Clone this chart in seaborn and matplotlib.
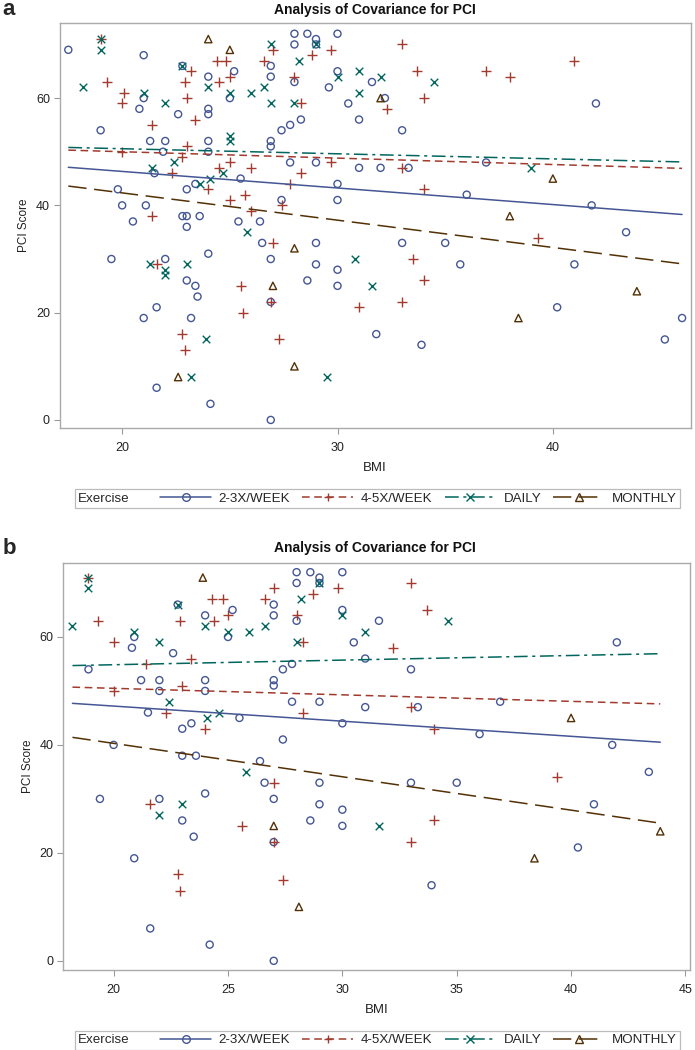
import numpy as np
import pandas as pd
import matplotlib.pyplot as plt
import seaborn as sns
from matplotlib.lines import Line2D
from matplotlib.offsetbox import HPacker

sns.set_style('white')
plt.rcParams['font.family'] = ['Liberation Sans', 'DejaVu Sans']

groups = ['2-3X/WEEK', '4-5X/WEEK', 'DAILY', 'MONTHLY']
colors = ['#445694', '#A23A2E', '#01665E', '#543005']
markers = ['o', '+', 'x', '^']
sizes = [26, 42, 30, 28]
linestyles = ['-', (0, (5, 3)), (0, (9, 3, 2, 3)), (0, (12, 5))]

# ---- panel a (all subjects) ----
a_23_bmi = [17.5, 21.0, 19.0, 24.0, 25.2, 26.9, 26.9, 21.0, 20.8, 22.6, 24.0, 24.0, 25.0,
            21.3, 22.0, 24.0, 26.9, 26.9, 21.9, 24.0, 21.5, 25.5, 23.4, 19.8, 23.0, 20.0,
            21.1, 20.5, 22.8, 23.0, 23.6, 25.4, 26.4, 23.0, 22.8,
            28.0, 28.6, 30.0, 29.0, 29.0, 28.0, 28.0, 30.0, 29.6, 31.6, 30.5, 32.2, 28.3,
            27.8, 27.4, 31.0, 33.0, 27.8, 29.0, 31.0, 32.0, 33.3, 36.9, 30.0, 36.0, 27.4, 30.0,
            42.0, 41.8, 43.4,
            19.5, 22.0, 24.0, 26.5, 26.9, 23.0, 23.4, 23.5, 21.6, 21.0, 23.2, 21.6, 24.1, 26.9, 26.9,
            29.0, 29.0, 30.0, 28.6, 30.0, 33.0, 35.0, 35.7, 31.8, 33.9,
            41.0, 40.2, 46.0, 45.2]
a_23_pci = [69, 68, 54, 64, 65, 66, 64, 60, 58, 57, 58, 57, 60,
            52, 52, 52, 52, 51, 50, 50, 46, 45, 44, 43, 43, 40,
            40, 37, 38, 38, 38, 37, 37, 36, 66,
            72, 72, 72, 71, 70, 70, 63, 65, 62, 63, 59, 60, 56,
            55, 54, 56, 54, 48, 48, 47, 47, 47, 48, 44, 42, 41, 41,
            59, 40, 35,
            30, 30, 31, 33, 30, 26, 25, 23, 21, 19, 19, 6, 3, 0, 22,
            33, 29, 28, 26, 25, 33, 33, 29, 16, 14,
            29, 21, 19, 15]
a_45_bmi = [19.0, 19.3, 20.1, 20.0, 23.2, 22.9, 23.0, 23.4, 21.4, 24.4, 24.8, 26.6, 24.5,
            25.0, 23.0, 20.0, 22.8, 24.5, 25.0, 26.0, 22.3, 24.0, 25.7, 25.0, 26.0, 21.4,
            27.0, 29.7, 28.8, 33.0, 28.0, 33.7, 28.3, 34.0, 32.3, 29.7, 28.3, 33.0, 27.8, 34.0, 27.4,
            36.9, 38.0, 41.0,
            27.0, 21.6, 25.5, 25.6, 22.8, 22.9, 26.9,
            33.5, 34.0, 33.0, 31.0, 27.3, 39.3]
a_45_pci = [71, 63, 61, 59, 65, 63, 60, 56, 55, 67, 67, 67, 63,
            64, 51, 50, 49, 47, 48, 47, 46, 43, 42, 41, 39, 38,
            69, 69, 68, 70, 64, 65, 59, 60, 58, 48, 46, 47, 44, 43, 40,
            65, 64, 67,
            33, 29, 25, 20, 16, 13, 22,
            30, 26, 22, 21, 15, 34]
a_daily_bmi = [19.0, 19.0, 18.2, 22.8, 21.0, 24.0, 25.0, 26.0, 26.6, 26.9, 26.9, 22.0, 25.0,
               25.0, 21.4, 22.4, 24.1, 24.7, 23.6,
               29.0, 28.2, 31.0, 30.0, 32.0, 34.5, 31.0, 28.0, 39.0,
               25.8, 21.3, 22.0, 22.0, 23.0, 23.9, 23.2, 30.8, 31.6, 29.5]
a_daily_pci = [71, 69, 62, 66, 61, 62, 61, 61, 62, 59, 70, 59, 53,
               52, 47, 48, 45, 46, 44,
               70, 67, 65, 64, 64, 63, 61, 59, 47,
               35, 29, 28, 27, 29, 15, 8, 30, 25, 8]
a_month_bmi = [24.0, 25.0, 32.0, 40.0, 38.0, 27.0, 22.6, 28.0, 28.0, 43.9, 38.4]
a_month_pci = [71, 69, 60, 45, 38, 25, 8, 32, 10, 24, 19]

# fitted lines
a_fit_x = [17.5, 46.0]
a_fit_start = [47.1, 50.3, 50.8, 43.6]
a_fit_end = [38.3, 46.9, 48.1, 29.1]

# ---- panel b (subset) ----
b_23_bmi = [28.0, 28.6, 30.0, 29.0, 28.0, 29.0, 22.8, 27.0, 25.2, 24.0, 27.0, 28.0, 30.0,
            20.9, 25.0, 20.8, 22.6, 30.5, 31.0, 18.9, 27.8, 27.4, 21.2, 22.0, 24.0, 27.0,
            27.0, 22.0, 24.0, 27.8, 29.0, 31.0, 21.5, 25.5, 23.4, 23.0, 30.0, 27.4, 20.0,
            31.6, 42.0, 33.0, 33.3, 36.9, 36.0, 41.8,
            23.0, 23.6, 26.4, 26.6, 29.0, 19.4, 22.0, 24.0, 27.0, 29.0, 30.0, 23.0, 28.6,
            30.0, 23.5, 27.0, 20.9, 21.6, 24.2, 27.0,
            33.0, 35.0, 43.4, 41.0, 40.3, 33.9]
b_23_pci = [72, 72, 72, 71, 70, 70, 66, 66, 65, 64, 64, 63, 65,
            60, 60, 58, 57, 59, 56, 54, 55, 54, 52, 52, 52, 52,
            51, 50, 50, 48, 48, 47, 46, 45, 44, 43, 44, 41, 40,
            63, 59, 54, 47, 48, 42, 40,
            38, 38, 37, 33, 33, 30, 30, 31, 30, 29, 28, 26, 26,
            25, 23, 22, 19, 6, 3, 0,
            33, 33, 35, 29, 21, 14]
b_45_bmi = [18.9, 27.0, 29.8, 28.7, 24.3, 24.8, 26.6, 19.3, 22.9, 24.4, 25.0, 28.0, 20.0,
            28.3, 23.4, 21.4, 23.0, 20.0, 22.3, 28.3, 24.0,
            33.0, 33.7, 32.2, 33.0, 34.0,
            27.0, 21.6, 25.6, 27.0, 22.8, 22.9, 27.4,
            39.4, 34.0, 33.0]
b_45_pci = [71, 69, 69, 68, 67, 67, 67, 63, 63, 63, 64, 64, 59,
            59, 56, 55, 51, 50, 46, 46, 43,
            70, 65, 58, 47, 43,
            33, 29, 25, 22, 16, 13, 15,
            34, 26, 22]
b_daily_bmi = [18.9, 18.9, 18.2, 20.9, 24.0, 25.0, 25.9, 26.6, 28.2, 28.0, 22.0, 22.8, 29.0,
               30.0, 31.0, 22.4, 24.1, 24.6, 34.6, 25.8, 23.0, 22.0, 31.6]
b_daily_pci = [71, 69, 62, 61, 62, 61, 61, 62, 67, 59, 59, 66, 70,
               64, 61, 48, 45, 46, 63, 35, 29, 27, 25]
b_month_bmi = [23.9, 40.0, 27.0, 28.1, 38.4, 43.9]
b_month_pci = [71, 45, 25, 10, 19, 24]

b_fit_x = [18.2, 43.9]
b_fit_start = [47.7, 50.7, 54.7, 41.4]
b_fit_end = [40.5, 47.6, 56.9, 25.5]


def make_df(bmis, pcis):
    frames = []
    for g, x, y in zip(groups, bmis, pcis):
        frames.append(pd.DataFrame({'BMI': x, 'PCI': y, 'Exercise': g}))
    return pd.concat(frames, ignore_index=True)


df_a = make_df([a_23_bmi, a_45_bmi, a_daily_bmi, a_month_bmi],
               [a_23_pci, a_45_pci, a_daily_pci, a_month_pci])
df_b = make_df([b_23_bmi, b_45_bmi, b_daily_bmi, b_month_bmi],
               [b_23_pci, b_45_pci, b_daily_pci, b_month_pci])

fig = plt.figure(figsize=(6.95, 10.5), dpi=100)
ax_a = fig.add_axes([0.0859, 0.5924, 0.9079, 0.3857])
ax_b = fig.add_axes([0.0911, 0.0762, 0.9017, 0.3876])


def draw_panel(ax, df, fit_x, fit_start, fit_end, xlim, ylim, xticks):
    for i, g in enumerate(groups):
        sub = df[df['Exercise'] == g]
        c = colors[i]
        sns.lineplot(x=fit_x, y=[fit_start[i], fit_end[i]], color=c,
                     linestyle=linestyles[i], lw=1.1, ax=ax)
        if markers[i] in ('o', '^'):
            sns.scatterplot(data=sub, x='BMI', y='PCI', marker=markers[i], s=sizes[i],
                            facecolor='none', edgecolor=c, linewidth=1.0, ax=ax)
        else:
            sns.scatterplot(data=sub, x='BMI', y='PCI', marker=markers[i], s=sizes[i],
                            color=c, linewidth=1.0, ax=ax)
    ax.set_xlim(*xlim)
    ax.set_ylim(*ylim)
    ax.set_xticks(xticks)
    ax.set_yticks([0, 20, 40, 60])
    ax.set_xlabel('BMI', fontsize=9.5, color='#222222', labelpad=6)
    ax.set_ylabel('PCI Score', fontsize=8.5, color='#222222', labelpad=4)
    ax.tick_params(bottom=True, left=True, direction='out', length=4, width=0.8,
                   color='#999999', labelsize=9, labelcolor='#222222')
    ax.tick_params(axis='x', pad=6)
    ax.tick_params(axis='y', pad=3)
    for sp in ax.spines.values():
        sp.set_color('#AAAAAA')
        sp.set_linewidth(1.0)


draw_panel(ax_a, df_a, a_fit_x, a_fit_start, a_fit_end, (17.1, 46.4), (-1.5, 74.0), [20, 30, 40])
draw_panel(ax_b, df_b, b_fit_x, b_fit_start, b_fit_end, (17.8, 45.2), (-1.7, 73.7),
           [20, 25, 30, 35, 40, 45])

# titles and panel letters
for y_t, letter in [(0.9905, 'a'), (0.478, 'b')]:
    fig.text(0.54, y_t, 'Analysis of Covariance for PCI', ha='center', va='center',
             fontsize=10, fontweight='bold', color='#111111')
    fig.text(0.004, y_t, letter, ha='left', va='center', fontsize=16, fontweight='bold')

# legends
handles = [Line2D([], [], color=c, linestyle=ls, marker=m, markersize=5.5,
                  markerfacecolor='none', markeredgewidth=1.0, lw=1.1)
           for c, ls, m in zip(colors, linestyles, markers)]

for y_l in [0.5248, 0.0095]:
    leg = fig.legend(handles=handles, labels=groups, ncol=4, title='Exercise',
                     loc='center', bbox_to_anchor=(0.543, y_l), fontsize=9.6, title_fontsize=9.6,
                     frameon=True, fancybox=False, edgecolor='#AAAAAA', handlelength=3.8,
                     handletextpad=0.6, columnspacing=0.9, borderpad=0.25, numpoints=1)
    leg.get_frame().set_linewidth(0.9)
    box = leg._legend_box
    box._children = [HPacker(children=[leg._legend_title_box, leg._legend_handle_box],
                             align='center', pad=0, sep=22)]

fig.savefig('out.png', dpi=100)
